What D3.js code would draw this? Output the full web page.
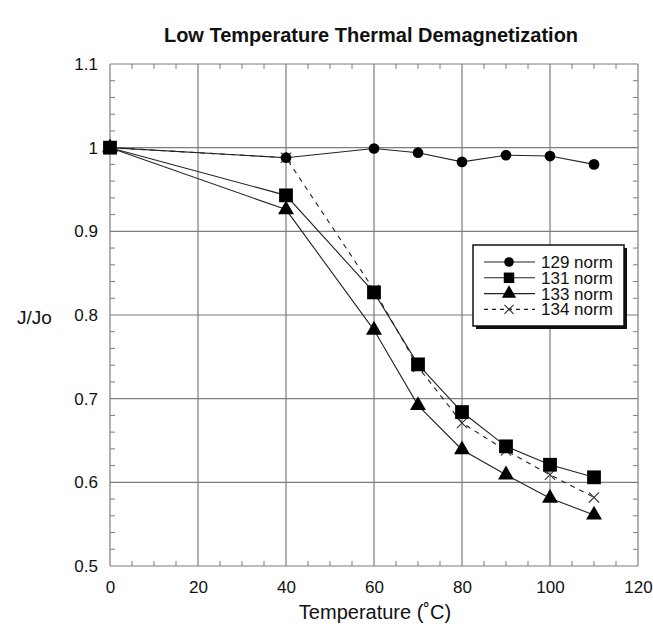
<!DOCTYPE html>
<html>
<head>
<meta charset="utf-8">
<script src="https://cdn.jsdelivr.net/npm/d3@7"></script>
<style>
  body { margin: 0; background: #fff; }
  text { font-family: "Liberation Sans", Arial, sans-serif; fill: #111; }
</style>
</head>
<body>
<svg id="chart" width="653" height="628"></svg>
<script>
// data
var temps = [0, 40, 60, 70, 80, 90, 100, 110]
var s129 = [1, 0.988, 0.999, 0.994, 0.983, 0.991, 0.990, 0.980]
var s131 = [1, 0.943, 0.827, 0.741, 0.684, 0.643, 0.621, 0.606]
var s133 = [1, 0.926, 0.782, 0.692, 0.639, 0.609, 0.581, 0.561]
var s134 = [1, 0.988, 0.830, 0.738, 0.671, 0.638, 0.609, 0.582]
var seriesNames = ['129 norm', '131 norm', '133 norm', '134 norm']
var xTicks = [0, 20, 40, 60, 80, 100, 120]
var yTicks = [0.5, 0.6, 0.7, 0.8, 0.9, 1, 1.1]

var svg = d3.select('#chart')
var plotLeft = 110, plotRight = 638, plotTop = 64, plotBottom = 566

var x = d3.scaleLinear().domain([0, 120]).range([plotLeft, plotRight])
var y = d3.scaleLinear().domain([0.5, 1.1]).range([plotBottom, plotTop])

// title
svg.append('text')
  .attr('x', 371).attr('y', 42)
  .attr('text-anchor', 'middle')
  .style('font-weight', 'bold').style('font-size', '20px')
  .text('Low Temperature Thermal Demagnetization')

// grid
var grid = svg.append('g').attr('stroke', '#7d7d7d').attr('stroke-width', 1.2)
xTicks.forEach(function(t) {
  grid.append('line').attr('x1', x(t)).attr('x2', x(t)).attr('y1', plotTop).attr('y2', plotBottom)
})
yTicks.forEach(function(t) {
  grid.append('line').attr('x1', plotLeft).attr('x2', plotRight).attr('y1', y(t)).attr('y2', y(t))
})

// minor ticks, inside on all four sides
var tk = svg.append('g').attr('stroke', '#7d7d7d').attr('stroke-width', 1)
d3.range(0, 121, 5).forEach(function(t) {
  if (t % 20 == 0) return
  tk.append('line').attr('x1', x(t)).attr('x2', x(t)).attr('y1', plotBottom).attr('y2', plotBottom - 5)
  tk.append('line').attr('x1', x(t)).attr('x2', x(t)).attr('y1', plotTop).attr('y2', plotTop + 5)
})
d3.range(0, 31).forEach(function(i) {
  if (i % 5 == 0) return
  var v = 0.5 + i * 0.02
  tk.append('line').attr('x1', plotLeft).attr('x2', plotLeft + 5).attr('y1', y(v)).attr('y2', y(v))
  tk.append('line').attr('x1', plotRight).attr('x2', plotRight - 5).attr('y1', y(v)).attr('y2', y(v))
})

// tick labels via d3 axes (lines hidden)
var xAxis = svg.append('g').attr('transform', `translate(0,${plotBottom})`)
  .call(d3.axisBottom(x).tickValues(xTicks).tickSize(0).tickPadding(15).tickFormat(d3.format('d')))
var yAxis = svg.append('g').attr('transform', `translate(${plotLeft},0)`)
  .call(d3.axisLeft(y).tickValues(yTicks).tickSize(0).tickPadding(12).tickFormat(function(d) { return String(+d.toFixed(1)) }))
;[xAxis, yAxis].forEach(function(a) {
  a.select('.domain').remove()
  a.attr('font-size', null).attr('font-family', null)
  a.selectAll('text').style('font-size', '17px').attr('fill', '#111')
})

svg.append('text').attr('x', 375).attr('y', 619).attr('text-anchor', 'middle')
  .style('font-size', '20px').text('Temperature (˚C)')
svg.append('text').attr('x', 17).attr('y', 324)
  .style('font-size', '19px').text('J/Jo')

// series
var line = d3.line().x(function(d) { return x(d[0]) }).y(function(d) { return y(d[1]) })
var all = [s129, s131, s133, s134]
var symbols = [d3.symbolCircle, d3.symbolSquare, d3.symbolTriangle, d3.symbolX]
var symSize = [90, 190, 110, 70]

all.forEach(function(vals, i) {
  var pts = temps.map(function(t, j) { return [t, vals[j]] })
  svg.append('path').datum(pts)
    .attr('d', line)
    .attr('fill', 'none')
    .attr('stroke', '#222')
    .attr('stroke-width', 1.1)
    .attr('stroke-dasharray', i == 3 ? '5,5' : null)
})
// 134 markers first so the others sit on top
;[3, 0, 1, 2].forEach(function(i) {
  svg.append('g').selectAll('path').data(temps)
    .join('path')
    .attr('transform', function(t, j) { return `translate(${x(t)},${y(all[i][j])})` })
    .attr('d', d3.symbol().type(symbols[i]).size(symSize[i]))
    .attr('fill', i == 3 ? 'none' : '#000')
    .attr('stroke', i == 3 ? '#333' : 'none')
    .attr('stroke-width', 1.1)
})

// legend
var lg = svg.append('g')
var lx = 473, ly = 245, lw = 151, lh = 81
lg.append('rect').attr('x', lx + 3).attr('y', ly + 3).attr('width', lw).attr('height', lh).attr('fill', '#111')
lg.append('rect').attr('x', lx).attr('y', ly).attr('width', lw).attr('height', lh)
  .attr('fill', '#fff').attr('stroke', '#111').attr('stroke-width', 1.5)
seriesNames.forEach(function(name, i) {
  var ry = 262 + i * 15.8
  lg.append('line').attr('x1', 484).attr('x2', 535).attr('y1', ry).attr('y2', ry)
    .attr('stroke', '#222').attr('stroke-width', 1.1)
    .attr('stroke-dasharray', i == 3 ? '4,4' : null)
  lg.append('path').attr('transform', `translate(509,${ry})`)
    .attr('d', d3.symbol().type(symbols[i]).size(i == 1 ? 110 : symSize[i] * 0.8))
    .attr('fill', i == 3 ? '#fff' : '#000')
    .attr('stroke', i == 3 ? '#333' : 'none')
    .attr('stroke-width', 1.1)
  lg.append('text').attr('x', 541).attr('y', ry + 6)
    .style('font-size', '17px').text(name)
})
</script>
</body>
</html>
